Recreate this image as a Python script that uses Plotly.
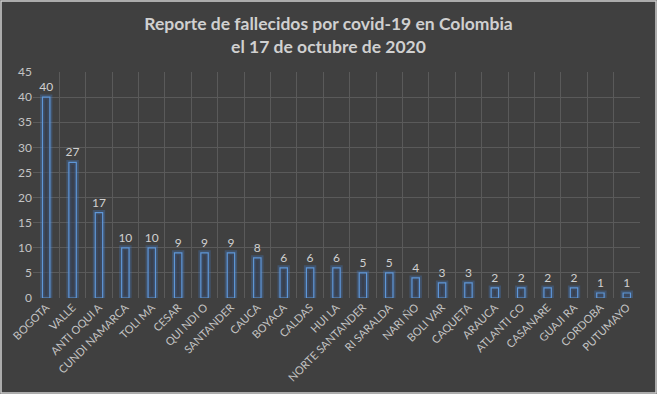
import plotly.graph_objects as go

departamentos = ["BOGOTA", "VALLE", "ANTI OQUI A", "CUNDI NAMARCA", "TOLI MA", "CESAR",
                 "QUI NDI O", "SANTANDER", "CAUCA", "BOYACA", "CALDAS", "HUI LA",
                 "NORTE SANTANDER", "RI SARALDA", "NARI ÑO", "BOLI VAR", "CAQUETA",
                 "ARAUCA", "ATLANTI CO", "CASANARE", "GUAJI RA", "CORDOBA", "PUTUMAYO"]
fallecidos = [40, 27, 17, 10, 10, 9, 9, 9, 8, 6, 6, 6, 5, 5, 4, 3, 3, 2, 2, 2, 2, 1, 1]
y_ticks = [0, 5, 10, 15, 20, 25, 30, 35, 40, 45]

W, H = 657, 394
ML, MR, MT, MB = 33, 17, 72, 96
BG = "#404040"
TXT = "#d0d0d0"
FONT = "Lato, 'Open Sans', sans-serif"
BW = 0.28

fig = go.Figure()
# glow
fig.add_trace(go.Bar(
    x=departamentos, y=fallecidos, width=BW,
    marker=dict(color="rgba(0,0,0,0)", line=dict(color="rgba(70,130,210,0.3)", width=5)),
    hoverinfo="skip", showlegend=False,
))
# main bars
fig.add_trace(go.Bar(
    x=departamentos, y=fallecidos, width=BW,
    marker=dict(color="rgba(55,65,85,0.6)", line=dict(color="#5f97d8", width=1.2)),
    text=fallecidos, textposition="outside", cliponaxis=False, constraintext="none",
    textfont=dict(color=TXT, size=12, family=FONT),
    showlegend=False,
))

pw = W - ML - MR
ph = H - MT - MB
fig.add_shape(type="rect", xref="paper", yref="paper",
              x0=-(ML - 1) / pw, x1=1 + (MR - 1) / pw,
              y0=-(MB - 1) / ph, y1=1 + (MT - 1) / ph,
              line=dict(color="#cfcfcf", width=1.5), layer="below")

fig.update_layout(
    width=W, height=H,
    margin=dict(l=ML, r=MR, t=MT, b=MB, autoexpand=False),
    paper_bgcolor=BG, plot_bgcolor=BG,
    barmode="overlay",
    title=dict(text="Reporte de fallecidos por covid-19 en Colombia<br>el 17 de octubre de 2020",
               x=0.5, xanchor="center", xref="container", yref="container",
               y=1 - 30 / H, yanchor="middle",
               font=dict(family=FONT, size=17.5, color=TXT, weight="bold")),
    xaxis=dict(tickangle=-45, tickson="boundaries", ticks="", showgrid=True,
               gridcolor="#5a5a5a", gridwidth=1, showline=False, zeroline=False,
               tickfont=dict(family=FONT, size=11, color="#c4c4c4")),
    yaxis=dict(range=[0, 45], tickvals=y_ticks, showgrid=True, gridcolor="#5a5a5a",
               gridwidth=1, zeroline=False, showline=False, ticks="",
               tickfont=dict(family=FONT, size=12, color="#c4c4c4")),
    font=dict(family=FONT),
)
fig.write_html("out.html", config={"displayModeBar": False},
               post_script="document.body.style.margin='0';document.body.style.overflow='hidden';")
